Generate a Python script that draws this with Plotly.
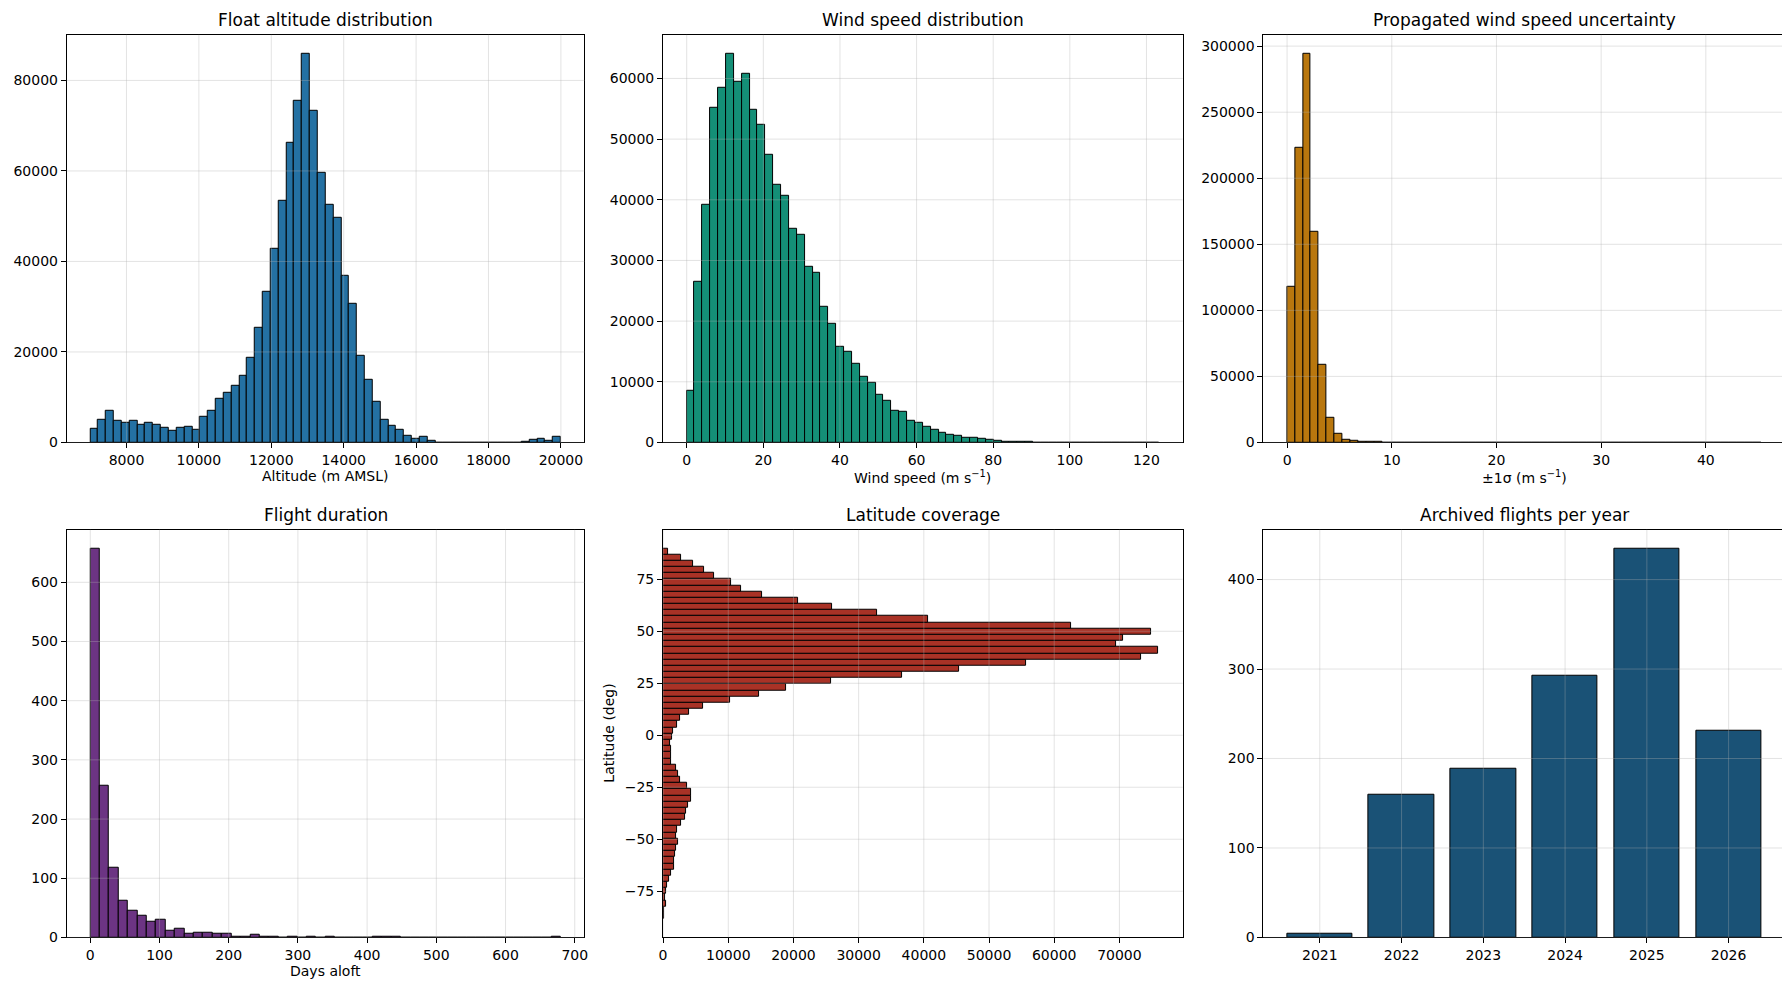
import numpy as np
import plotly.graph_objects as go
from plotly.subplots import make_subplots

# ---- data ----
alt_range = (7000, 20000)
alt_counts = [3100, 5100, 7100, 4900, 4400, 4900, 4000, 4400, 4000, 3300,
              2650, 3300, 3550, 2900, 5750, 7100, 9700, 11050, 12600, 14800,
              18800, 25400, 33200, 42700, 53300, 66300, 75400, 85800, 73200, 59700,
              52600, 49700, 36900, 30700, 19200, 13900, 9100, 5100, 3750, 2900,
              1550, 900, 1300, 450, 0, 0, 0, 0, 0, 0,
              0, 0, 0, 0, 0, 200, 650, 900, 450, 1300]

wind_range = (0, 123.3)
wind_counts = [8600, 26500, 39200, 55200, 58400, 64000, 59500, 60800, 54900, 52400,
               47500, 42400, 40700, 35300, 34300, 29000, 27900, 22400, 19500, 15800,
               15000, 12900, 10900, 9900, 7900, 6800, 5300, 5100, 3600, 3300,
               2600, 2100, 1650, 1300, 1150, 700, 700, 650, 500, 330,
               170, 160, 150, 60, 30, 15, 8, 5, 3, 2,
               1, 1, 0, 0, 0, 0, 0, 0, 0, 1]

sigma_range = (0, 45.3)
sigma_counts = [118200, 222700, 293900, 159800, 59100, 18900, 6800, 2300, 1500, 750,
                300, 150, 80, 40, 20, 10, 5, 3, 2, 1,
                1, 0, 0, 0, 0, 0, 0, 0, 0, 0,
                0, 0, 0, 0, 0, 0, 0, 0, 0, 0,
                0, 0, 0, 0, 0, 0, 0, 0, 0, 0,
                0, 0, 0, 0, 0, 0, 0, 0, 0, 1]

days_range = (0, 680)
days_counts = [656, 256, 117, 62, 45, 36, 26, 30, 11, 15,
               6, 8, 8, 6, 6, 2, 2, 4, 1, 1,
               0, 1, 0, 1, 0, 1, 0, 0, 0, 0,
               1, 1, 1, 0, 0, 0, 0, 0, 0, 0,
               0, 0, 0, 0, 0, 0, 0, 0, 0, 1]

lat_range = (-88.3, 89.9)
lat_counts = [115, 115, 460, 290, 400, 580, 870, 1150, 1620, 1670,
              1790, 1960, 2310, 1960, 2140, 2710, 3410, 3580, 3810, 4270,
              4270, 3700, 2600, 2310, 2020, 1210, 1210, 1210, 1040, 1330,
              1500, 2140, 2600, 3980, 6120, 10280, 14720, 18820, 25810, 36660,
              45440, 55660, 73330, 75920, 69460, 70550, 74890, 62590, 40650, 32850,
              25920, 20670, 15190, 11950, 10390, 7790, 6290, 4620, 2710, 750]

years = [2021, 2022, 2023, 2024, 2025, 2026]
flights = [4, 160, 189, 293, 434, 231]

colors = ["#2471A3", "#148F77", "#B9770E", "#6C3483", "#A93226", "#1A5276"]

W, H = 1790, 990
col_px = [(55, 575), (654, 1176), (1257, 1781)]
row_px = [(27, 438), (526, 937)]
grid_rgba = "rgba(176,176,176,0.35)"


def bins(rng, counts):
    edges = np.linspace(rng[0], rng[1], len(counts) + 1)
    return (edges[:-1] + edges[1:]) / 2, edges[1] - edges[0]


def pad(lo, hi):
    m = 0.05 * (hi - lo)
    return [lo - m, hi + m]


fig = make_subplots(rows=2, cols=3)

hist_panels = [
    (1, 1, alt_range, alt_counts, colors[0]),
    (1, 2, wind_range, wind_counts, colors[1]),
    (1, 3, sigma_range, sigma_counts, colors[2]),
    (2, 1, days_range, days_counts, colors[3]),
]
for r, c, rng, cnt, col in hist_panels:
    xc, w = bins(rng, cnt)
    fig.add_trace(go.Bar(x=xc, y=cnt, width=w, marker=dict(color=col, line=dict(color="black", width=1)),
                         showlegend=False), row=r, col=c)

yc, h = bins(lat_range, lat_counts)
fig.add_trace(go.Bar(y=yc, x=lat_counts, width=h, orientation="h",
                     marker=dict(color=colors[4], line=dict(color="black", width=1)),
                     showlegend=False), row=2, col=2)

fig.add_trace(go.Bar(x=years, y=flights, width=0.8,
                     marker=dict(color=colors[5], line=dict(color="black", width=1)),
                     showlegend=False), row=2, col=3)

axis_style = dict(showline=True, linecolor="black", linewidth=1, mirror=True,
                  ticks="outside", ticklen=5, tickwidth=1, tickcolor="black",
                  showgrid=False, zeroline=False, layer="above traces",
                  tickfont=dict(size=14, color="black"))

xranges = [pad(*alt_range), pad(*wind_range), pad(*sigma_range),
           pad(*days_range), [0, max(lat_counts) * 1.05], pad(years[0] - 0.4, years[-1] + 0.4)]
yranges = [[0, max(alt_counts) * 1.05], [0, max(wind_counts) * 1.05], [0, max(sigma_counts) * 1.05],
           [0, max(days_counts) * 1.05], pad(*lat_range), [0, max(flights) * 1.05]]
xticks = [list(range(8000, 20001, 2000)), list(range(0, 121, 20)), list(range(0, 41, 10)),
          list(range(0, 701, 100)), list(range(0, 70001, 10000)), years]
yticks = [list(range(0, 80001, 20000)), list(range(0, 60001, 10000)), list(range(0, 300001, 50000)),
          list(range(0, 601, 100)), [-75, -50, -25, 0, 25, 50, 75], list(range(0, 401, 100))]

titles = ["Float altitude distribution", "Wind speed distribution", "Propagated wind speed uncertainty",
          "Flight duration", "Latitude coverage", "Archived flights per year"]
xlabels = ["Altitude (m AMSL)", "Wind speed (m s<sup>−1</sup>)", "±1σ (m s<sup>−1</sup>)",
           "Days aloft", "", ""]

annotations = []
shapes = []
for i in range(6):
    r, c = divmod(i, 3)
    x0, x1 = col_px[c][0] / W, col_px[c][1] / W
    ytop, ybot = 1 - row_px[r][0] / H, 1 - row_px[r][1] / H
    n = "" if i == 0 else str(i + 1)
    fig.layout["xaxis" + n].update(domain=[x0, x1], range=xranges[i], tickvals=xticks[i], **axis_style)
    fig.layout["yaxis" + n].update(domain=[ybot, ytop], range=yranges[i], tickvals=yticks[i], **axis_style)
    if i != 4:
        fig.layout["yaxis" + n].update(tickformat="d")
    if i != 5:
        fig.layout["xaxis" + n].update(tickformat="d")

    # grid drawn over the bars, as in the reference
    for t in xticks[i]:
        shapes.append(dict(type="line", xref="x" + n, yref="y" + n + " domain", x0=t, x1=t, y0=0, y1=1,
                           line=dict(color=grid_rgba, width=1), layer="above"))
    for t in yticks[i]:
        shapes.append(dict(type="line", xref="x" + n + " domain", yref="y" + n, x0=0, x1=1, y0=t, y1=t,
                           line=dict(color=grid_rgba, width=1), layer="above"))

    annotations.append(dict(text=titles[i], x=(x0 + x1) / 2, y=ytop, xref="paper", yref="paper",
                            xanchor="center", yanchor="bottom", yshift=3, showarrow=False,
                            font=dict(size=17, color="black")))
    if xlabels[i]:
        annotations.append(dict(text=xlabels[i], x=(x0 + x1) / 2, y=ybot, xref="paper", yref="paper",
                                xanchor="center", yanchor="top", yshift=-24, showarrow=False,
                                font=dict(size=14, color="black")))

annotations.append(dict(text="Latitude (deg)", x=col_px[1][0] / W, y=(2 - (row_px[1][0] + row_px[1][1]) / H) / 2,
                        xref="paper", yref="paper", xanchor="center", yanchor="middle", xshift=-54,
                        textangle=-90, showarrow=False, font=dict(size=14, color="black")))

fig.update_layout(width=W, height=H, margin=dict(l=0, r=0, t=0, b=0),
                  plot_bgcolor="white", paper_bgcolor="white",
                  font=dict(family="DejaVu Sans", color="black"),
                  annotations=annotations, shapes=shapes, bargap=0)

fig.write_html("out.html")
